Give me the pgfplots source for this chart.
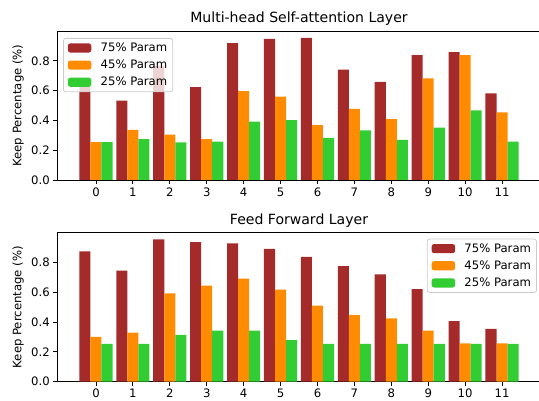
\documentclass[border=0pt]{standalone}
\usepackage{pgfplots}
\pgfplotsset{compat=1.18}
\usepackage{fontspec}
\setmainfont{DejaVu Sans}
\definecolor{cRed}{HTML}{A52A2A}
\definecolor{cOrange}{HTML}{FF8C00}
\definecolor{cGreen}{HTML}{32CD32}
\definecolor{cLegEdge}{HTML}{CCCCCC}
\pgfplotsset{
  myax/.style={
    scale only axis,
    width=483.6bp, height=149bp,
    xmin=-1.05, xmax=12.05, ymin=0, ymax=1.0,
    xtick={0,1,2,3,4,5,6,7,8,9,10,11},
    ytick={0,0.2,0.4,0.6,0.8},
    yticklabel style={/pgf/number format/fixed,/pgf/number format/fixed zerofill,/pgf/number format/precision=1},
    /pgf/number format/assume math mode=true,
    tick align=outside, xtick pos=bottom, ytick pos=left,
    major tick length=4bp,
    tick style={black, line width=0.8bp},
    axis line style={line width=0.8bp},
    ticklabel style={font=\fontsize{11.7}{13.5}\selectfont, text=black},
    ylabel={Keep Percentage (\%)},
    ylabel style={font=\fontsize{11.7}{13.5}\selectfont, at={(axis description cs:-0.0806,0.5)}, anchor=center},
    title style={font=\fontsize{14.1}{16}\selectfont, at={(axis description cs:0.5,1)}, anchor=south, yshift=-4bp},
    ybar, bar width=0.3,
    legend cell align=left,
    legend image code/.code={\fill[#1,draw=none,fill opacity=1] (0bp,-4.6bp) rectangle (23.4bp,4.6bp);},
    legend style={font=\fontsize{11.7}{13.5}\selectfont, draw=cLegEdge, line width=0.8bp, rounded corners=2.5bp, fill=white, fill opacity=0.8, draw opacity=1, text opacity=1, inner xsep=4.5bp, inner ysep=3.5bp, row sep=5bp, nodes={inner sep=1bp}, /tikz/every odd column/.append style={column sep=8.4bp}},
  }
}
\begin{document}
\begin{tikzpicture}
\useasboundingbox (0,0) rectangle (539bp,401bp);
\begin{axis}[myax, at={(57.2bp,221bp)}, anchor=south west,
  title={Multi-head Self-attention Layer},
  legend style={at={(0.012,0.953)}, anchor=north west}]
\addplot[fill=cRed, draw=none, bar shift=-0.3] coordinates {(0,0.627) (1,0.532) (2,0.766) (3,0.623) (4,0.918) (5,0.947) (6,0.954) (7,0.740) (8,0.659) (9,0.838) (10,0.858) (11,0.581)};
\addplot[fill=cOrange, draw=none, bar shift=0] coordinates {(0,0.255) (1,0.337) (2,0.304) (3,0.275) (4,0.597) (5,0.559) (6,0.369) (7,0.478) (8,0.409) (9,0.682) (10,0.838) (11,0.454)};
\addplot[fill=cGreen, draw=none, bar shift=0.3] coordinates {(0,0.255) (1,0.275) (2,0.253) (3,0.257) (4,0.391) (5,0.402) (6,0.282) (7,0.333) (8,0.270) (9,0.351) (10,0.467) (11,0.257)};
\legend{75\% Param, 45\% Param, 25\% Param}
\end{axis}
\begin{axis}[myax, at={(57.2bp,19.3bp)}, anchor=south west,
  title={Feed Forward Layer},
  legend style={at={(0.992,0.96)}, anchor=north east}]
\addplot[fill=cRed, draw=none, bar shift=-0.3] coordinates {(0,0.874) (1,0.746) (2,0.955) (3,0.937) (4,0.928) (5,0.892) (6,0.838) (7,0.775) (8,0.721) (9,0.622) (10,0.407) (11,0.355)};
\addplot[fill=cOrange, draw=none, bar shift=0] coordinates {(0,0.301) (1,0.330) (2,0.593) (3,0.645) (4,0.692) (5,0.618) (6,0.510) (7,0.447) (8,0.425) (9,0.342) (10,0.258) (11,0.258)};
\addplot[fill=cGreen, draw=none, bar shift=0.3] coordinates {(0,0.254) (1,0.254) (2,0.315) (3,0.342) (4,0.342) (5,0.279) (6,0.254) (7,0.254) (8,0.254) (9,0.254) (10,0.254) (11,0.254)};
\legend{75\% Param, 45\% Param, 25\% Param}
\end{axis}
\end{tikzpicture}
\end{document}
